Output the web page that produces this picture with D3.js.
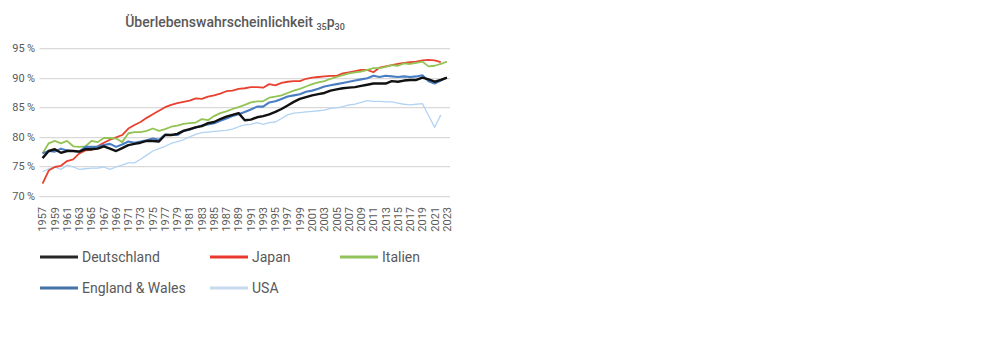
<!DOCTYPE html>
<html><head><meta charset="utf-8">
<script src="https://cdn.jsdelivr.net/npm/d3@7"></script>
<style>
html,body{margin:0;padding:0;background:#fff;}
svg{display:block;font-family:Roboto,"Noto Sans",sans-serif;}
</style></head>
<body><svg id="c" width="1000" height="340"></svg>
<script>
const years = [1957,1958,1959,1960,1961,1962,1963,1964,1965,1966,1967,1968,1969,1970,1971,1972,1973,1974,1975,1976,1977,1978,1979,1980,1981,1982,1983,1984,1985,1986,1987,1988,1989,1990,1991,1992,1993,1994,1995,1996,1997,1998,1999,2000,2001,2002,2003,2004,2005,2006,2007,2008,2009,2010,2011,2012,2013,2014,2015,2016,2017,2018,2019,2020,2021,2022,2023];
const yTicks = [70,75,80,85,90,95];
const seriesNames = ["Deutschland","Japan","Italien","England & Wales","USA"];
const deutschland = [76.4,77.6,77.9,77.3,77.6,77.6,77.5,77.9,77.9,78.0,78.4,78.0,77.6,78.1,78.6,78.8,79.0,79.3,79.3,79.2,80.3,80.3,80.5,81.0,81.3,81.6,81.8,82.3,82.5,83.0,83.4,83.7,84.0,82.8,82.9,83.3,83.5,83.8,84.2,84.7,85.3,85.9,86.4,86.7,87.0,87.2,87.4,87.8,88.0,88.2,88.3,88.4,88.6,88.8,89.0,89.0,89.0,89.4,89.3,89.5,89.6,89.6,90.0,89.7,89.3,89.6,90.0];
const japan = [72.1,74.3,74.9,75.1,75.9,76.2,77.2,77.7,77.8,78.4,79.0,79.5,79.9,80.3,81.4,82.0,82.5,83.2,83.8,84.4,85.0,85.4,85.7,85.9,86.1,86.5,86.4,86.8,87.0,87.3,87.7,87.8,88.1,88.2,88.4,88.4,88.3,88.9,88.7,89.1,89.3,89.4,89.4,89.8,90.0,90.1,90.2,90.3,90.3,90.7,90.9,91.1,91.3,91.3,90.9,91.7,91.9,92.1,92.3,92.5,92.6,92.7,92.9,93.0,92.9,92.6,null];
const italien = [77.2,78.9,79.3,78.9,79.3,78.4,78.3,78.4,79.3,79.1,79.8,79.8,79.7,79.1,80.6,80.8,80.8,81.0,81.4,81.0,81.3,81.7,81.9,82.2,82.3,82.4,83.0,82.8,83.5,84.0,84.3,84.7,85.0,85.4,85.8,86.0,86.0,86.6,86.8,87.0,87.4,87.8,88.1,88.5,88.9,89.2,89.4,89.8,90.1,90.4,90.7,90.9,91.0,91.3,91.6,91.6,91.8,92.1,92.0,92.4,92.3,92.5,92.7,91.9,92.0,92.3,92.7];
const englandWales = [77.2,77.6,77.5,78.0,77.7,77.6,77.5,78.3,78.3,78.3,78.6,78.8,78.3,78.7,79.2,79.0,79.2,79.4,79.7,79.5,80.4,80.3,80.3,81.0,81.2,81.6,81.9,82.1,82.3,82.7,83.1,83.5,83.8,84.2,84.6,85.1,85.1,85.8,86.0,86.4,86.8,87.0,87.2,87.6,87.8,88.1,88.5,88.7,88.9,89.1,89.3,89.5,89.7,89.9,90.3,90.1,90.3,90.2,90.1,90.2,90.1,90.2,90.4,89.4,89.0,89.5,90.0];
const usa = [74.1,74.6,74.9,74.5,75.2,74.9,74.5,74.6,74.7,74.7,74.9,74.5,74.9,75.2,75.6,75.6,76.2,76.9,77.6,78.0,78.4,78.9,79.2,79.5,80.0,80.4,80.7,80.8,80.9,81.0,81.1,81.3,81.7,82.0,82.1,82.4,82.1,82.4,82.5,83.1,83.7,84.0,84.1,84.2,84.3,84.4,84.5,84.8,84.9,85.1,85.4,85.5,85.8,86.1,86.0,86.0,85.9,85.9,85.7,85.5,85.4,85.5,85.6,83.6,81.6,83.7,null];

const svg = d3.select("#c");
svg.append("rect").attr("width",1000).attr("height",340).attr("fill","#fff");
const gray = "#595959";

const x = d3.scaleBand().domain(years).range([39.5, 450]);
const y = d3.scaleLinear().domain([70, 95]).range([196, 48]);
const cx = d => x(d) + x.bandwidth()/2;

// gridlines
svg.append("g").selectAll("line").data(yTicks).join("line")
  .attr("x1", 39.5).attr("x2", 450)
  .attr("y1", d => Math.round(y(d))+0.5).attr("y2", d => Math.round(y(d))+0.5)
  .attr("stroke", "#d9d9d9").attr("stroke-width", 1.25);

// y axis labels
const yAxis = d3.axisLeft(y).tickValues(yTicks).tickSize(0).tickPadding(0)
  .tickFormat(d => d + "\u2009%");
const gy = svg.append("g").attr("transform","translate(35,0)").call(yAxis);
gy.select(".domain").remove();
gy.selectAll("text").attr("fill", gray).attr("font-size", 11).attr("font-weight", 400)
  .attr("font-family", "Roboto, sans-serif");

// x axis labels
const xAxis = d3.axisBottom(x).tickValues(years.filter((d,i)=> i%2===0)).tickSize(0).tickPadding(0);
const gx = svg.append("g").attr("transform","translate(0,207)").call(xAxis);
gx.select(".domain").remove();
gx.selectAll("text").attr("fill", gray).attr("font-size", 11).attr("font-weight", 400)
  .attr("font-family", "Roboto, sans-serif")
  .attr("transform", "rotate(-90)").attr("text-anchor","end")
  .attr("x", 0).attr("y", 0).attr("dy", "0.35em");

// lines
const series = [
  {name: seriesNames[0], values: deutschland, color: "#111111", w: 2.4},
  {name: seriesNames[1], values: japan, color: "#e8412f", w: 1.8},
  {name: seriesNames[2], values: italien, color: "#92c353", w: 1.8},
  {name: seriesNames[3], values: englandWales, color: "#4a7ec2", w: 2.1},
  {name: seriesNames[4], values: usa, color: "#b3d3f3", w: 1.3}
];
const line = d3.line().defined(d => d[1] != null).x(d => cx(d[0])).y(d => y(d[1]));
const drawOrder = [4,1,2,3,0];
svg.append("g").selectAll("path").data(drawOrder.map(i => series[i])).join("path")
  .attr("fill","none").attr("stroke", d => d.color).attr("stroke-width", d => d.w)
  .attr("stroke-linejoin","round")
  .attr("d", d => line(years.map((yr,i)=>[yr, d.values[i]])));

// title
const t = svg.append("text").attr("x", 235).attr("y", 27).attr("text-anchor","middle")
  .attr("fill", gray).attr("font-size", 14).attr("font-weight", 500);
t.append("tspan").text("Überlebenswahrscheinlichkeit ");
t.append("tspan").attr("font-size", 9).attr("dy", 3).text("35");
t.append("tspan").attr("dy", -3).text("p");
t.append("tspan").attr("font-size", 9).attr("dy", 3).text("30");

// legend
const legPos = [[40,257],[210,257],[340,257],[40,288],[210,288]];
const lg = svg.append("g").selectAll("g").data(series).join("g")
  .attr("transform", (d,i) => `translate(${legPos[i][0]},${legPos[i][1]})`);
lg.append("line").attr("x1",0).attr("x2",38).attr("y1",0).attr("y2",0)
  .attr("stroke", (d,i) => ["#262626","#e8392c","#92c35a","#4572a8","#c6d9ef"][i]).attr("stroke-width",3);
lg.append("text").attr("x", 42).attr("y", 0).attr("dy","0.35em")
  .attr("fill", gray).attr("font-size", 14).attr("font-weight", 400).text(d => d.name);
</script></body></html>
